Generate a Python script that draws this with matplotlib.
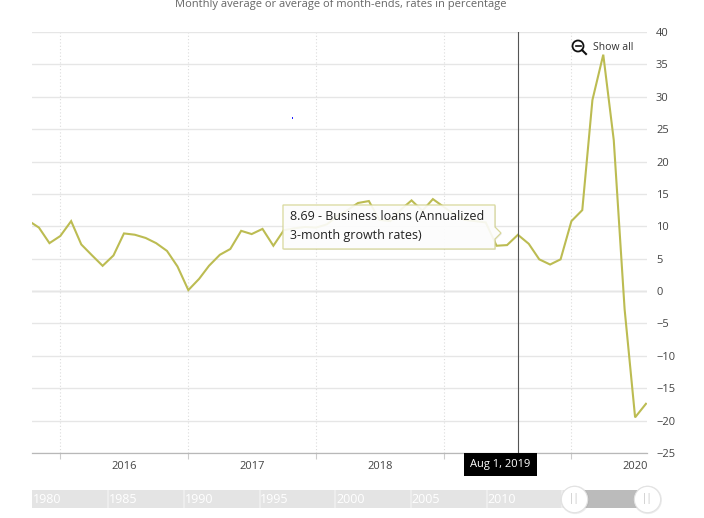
import matplotlib
matplotlib.use("Agg")
import matplotlib.pyplot as plt
from matplotlib.patches import Rectangle, Ellipse, Polygon
from matplotlib.lines import Line2D
import pandas as pd

# Business loans, annualized 3-month growth rates (%), monthly, Oct 2015 - Aug 2020
months = pd.date_range("2015-10-01", "2020-08-01", freq="MS")
loans = [
    10.9, 9.8, 7.4,                                                    # 2015 Oct-Dec
    8.5, 10.8, 7.2, 5.5, 3.9, 5.5, 8.9, 8.7, 8.2, 7.4, 6.2, 3.8,       # 2016
    0.15, 1.9, 3.9, 5.6, 6.5, 9.3, 8.8, 9.6, 7.0, 9.4, 9.7, 9.9,       # 2017
    9.8, 10.3, 11.5, 12.5, 13.6, 13.9, 11.0, 10.8, 12.6, 14.0, 12.4, 14.2,  # 2018
    13.0, 11.8, 11.0, 10.8, 10.6, 7.0, 7.1, 8.69, 7.3, 4.9, 4.1, 4.9,  # 2019
    10.8, 12.5, 29.5, 36.5, 23.3, -2.8, -19.5, -17.4,                  # 2020 Jan-Aug
]
series_name = "Business loans (Annualized\n3-month growth rates)"
hover_date = pd.Timestamp("2019-08-01")
year_ticks = [pd.Timestamp(f"{y}-01-01") for y in range(2016, 2021)]
# 2019 sits under the hover date label, so it is not shown
year_labels = ["2016", "2017", "2018", "", "2020"]
y_ticks = list(range(-25, 41, 5))

# navigator (full history overview)
nav_years = [1980, 1985, 1990, 1995, 2000, 2005, 2010]
nav_start, nav_end = 1980.0, 2020.58
sel_start, sel_end = 2015.78, 2020.58

W, H = 704, 518
LINE = "#bcbc52"
plt.rcParams["font.family"] = ["Open Sans", "DejaVu Sans"]


def fx(x):
    return x / W


def fy(y):
    return 1 - y / H


fig = plt.figure(figsize=(W / 100, H / 100), dpi=100)

# ---- main chart
ax = fig.add_axes([fx(32.3), fy(453), (647 - 32.3) / W, (453 - 32) / H])
ax.plot(months, loans, color=LINE, lw=1.5, zorder=3, solid_joinstyle="miter")
ax.set_xlim(pd.Timestamp("2015-10-13"), pd.Timestamp("2020-08-04"))
ax.set_ylim(-25, 40)

ax.yaxis.tick_right()
ax.set_yticks(y_ticks)
ax.tick_params(axis="y", length=0, pad=6.5, labelsize=8, labelcolor="#444")
ax.grid(axis="y", color="#e6e6e6", lw=1.0, zorder=0)
ax.axhline(0, color="#b4b4b4", lw=0.9, zorder=1)

ax.set_xticks(year_ticks)
ax.set_xticklabels([])
ax.tick_params(axis="x", which="major", length=4, width=0.8, color="#cccccc")
ax.set_xticks([d + pd.Timedelta(days=182) for d in year_ticks], minor=True)
ax.set_xticklabels(year_labels, minor=True)
ax.tick_params(axis="x", which="minor", length=0, pad=6, labelsize=8, labelcolor="#444")
for d in year_ticks:
    ax.axvline(d, color="#dcdcdc", lw=0.8, ls=(0, (1, 2)), zorder=0)

for s in ["top", "left", "right"]:
    ax.spines[s].set_visible(False)
ax.spines["bottom"].set_color("#b8b8b8")
ax.spines["bottom"].set_linewidth(0.9)

# crosshair at the hovered point
ax.axvline(hover_date, color="#555555", lw=0.8, zorder=4)
hover_val = loans[list(months).index(hover_date)]

# title (cut at top, as in the page)
fig.text(fx(341), fy(5), "Monthly average or average of month-ends, rates in percentage",
         ha="center", va="center", fontsize=8, color="#666666")

# tooltip with its pointer on the right side
tip = [(283, 205), (495, 205), (495, 227), (501, 233), (495, 239), (495, 249), (283, 249)]
fig.add_artist(Polygon([(fx(x + 1), fy(y + 1)) for x, y in tip], closed=True,
                       transform=fig.transFigure, fc="#bbbbbb", ec="none", alpha=0.25,
                       zorder=5))
fig.add_artist(Polygon([(fx(x), fy(y)) for x, y in tip], closed=True,
                       transform=fig.transFigure, fc="white", ec="#d2d28e", lw=0.9,
                       alpha=0.88, zorder=6))
line1, line2 = series_name.split("\n")
fig.text(fx(290), fy(217), f"{hover_val:.2f} - {line1}", ha="left", va="center",
         fontsize=9, color="#222222", zorder=7)
fig.text(fx(290), fy(235.5), line2, ha="left", va="center", fontsize=9,
         color="#222222", zorder=7)

# date label on the axis
fig.add_artist(Rectangle((fx(464), fy(476)), 73 / W, 23 / H, transform=fig.transFigure,
                         fc="black", ec="none", zorder=6))
fig.text(fx(500.5), fy(464.5), hover_date.strftime("%b %-d, %Y"), ha="center", va="center",
         fontsize=8, color="white", zorder=7)

# "Show all" zoom button
fig.add_artist(Ellipse((fx(578), fy(46)), 11 / W, 11 / H, transform=fig.transFigure,
                       fc="none", ec="#111111", lw=1.3))
fig.add_artist(Line2D([fx(575.5), fx(580.5)], [fy(46), fy(46)], transform=fig.transFigure,
                      color="#111111", lw=1.2))
fig.add_artist(Line2D([fx(582), fx(586)], [fy(50), fy(54)], transform=fig.transFigure,
                      color="#111111", lw=1.5))
fig.text(fx(593), fy(47), "Show all", ha="left", va="center", fontsize=7.5, color="#333333")

# stray blue pixel visible in the page
fig.add_artist(Rectangle((fx(291.5), fy(119)), 1.5 / W, 1.5 / H, transform=fig.transFigure,
                         fc="#2222ff", ec="none"))

# ---- navigator
nav = fig.add_axes([fx(32.3), fy(508), (647 - 32.3) / W, 18 / H])
nav.set_xlim(nav_start, nav_end)
nav.set_ylim(0, 1)
nav.set_facecolor("#e4e4e4")
nav.axvspan(sel_start, sel_end, color="#bbbbbb", zorder=1)
for yr in nav_years[1:] + [2015]:
    nav.axvline(yr, color="#f0f0f0", lw=1.2, zorder=2)
for yr in nav_years:
    nav.text(yr + 0.05, 0.45, str(yr), ha="left", va="center", fontsize=9,
             color="white", zorder=3)
for s in nav.spines.values():
    s.set_visible(False)
nav.set_xticks([])
nav.set_yticks([])
for xh in (sel_start, sel_end):
    nav.scatter([xh + 0.05], [0.45], s=420, color="#999999", alpha=0.18,
                edgecolors="none", zorder=4, clip_on=False)
    nav.scatter([xh], [0.5], s=360, color="white", edgecolors="#e2e2e2",
                linewidths=0.8, zorder=5, clip_on=False)
    nav.text(xh, 0.5, "||", ha="center", va="center", fontsize=7, color="#bdbdbd",
             zorder=6)

fig.savefig("out.png", dpi=100)
